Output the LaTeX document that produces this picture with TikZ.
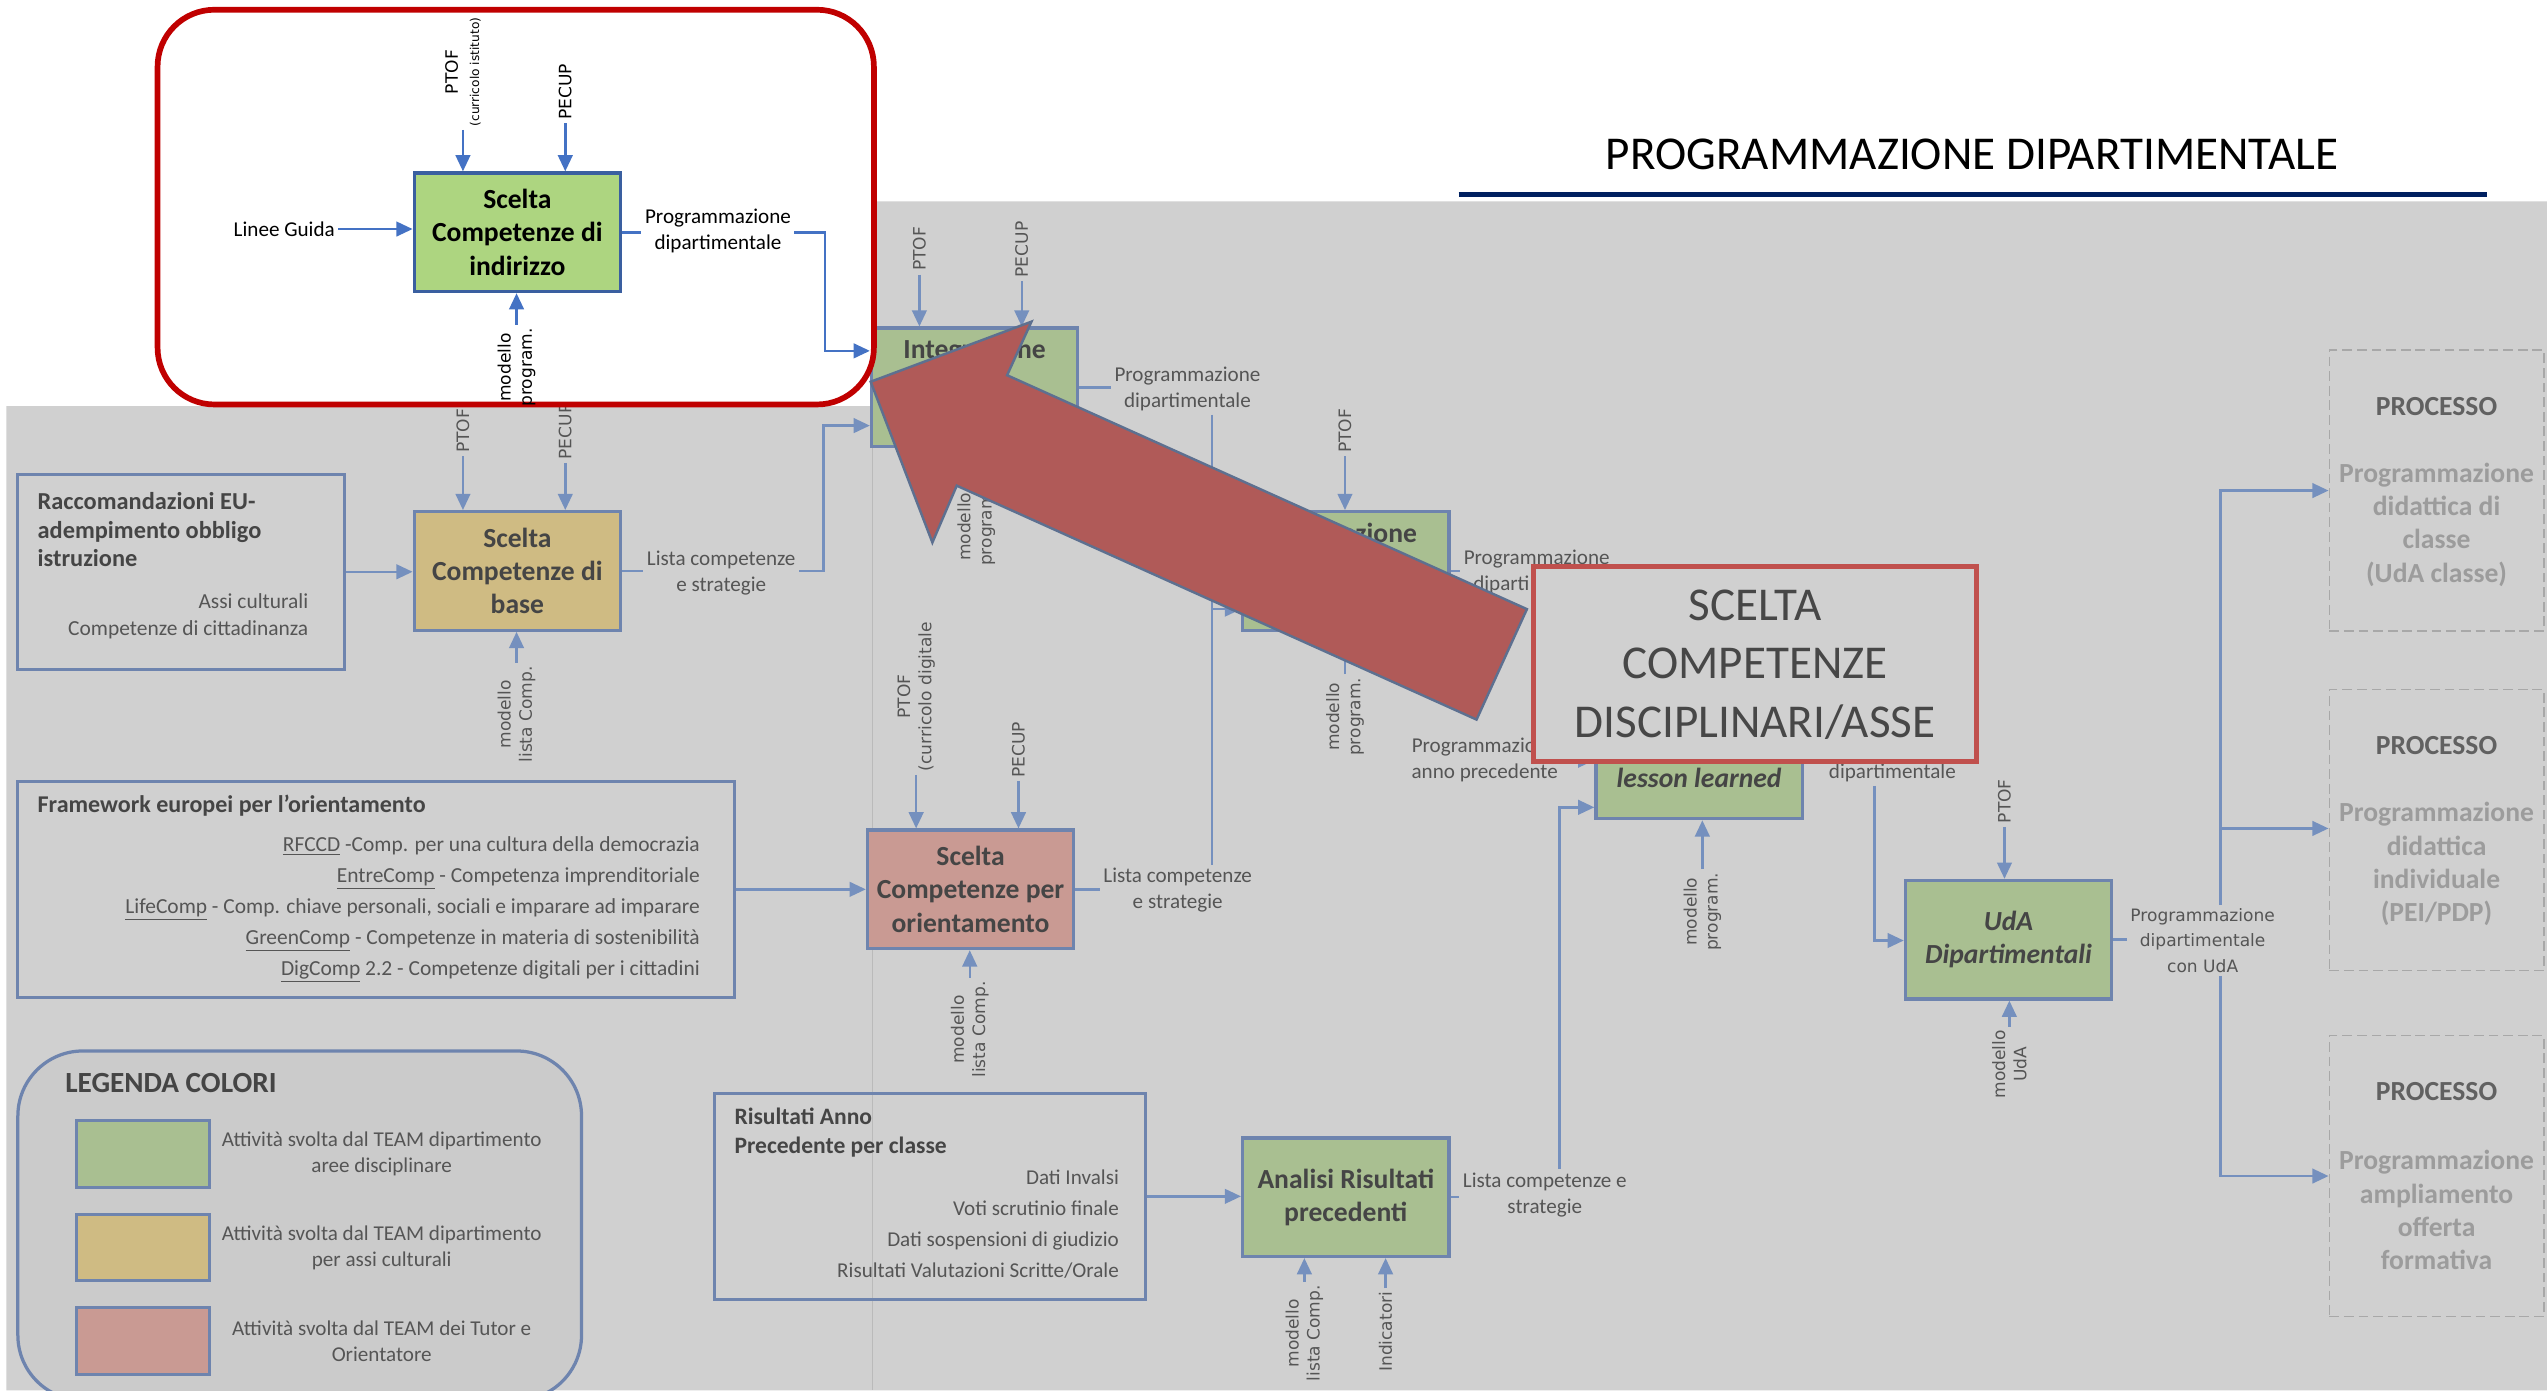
\documentclass[tikz,border=0pt]{standalone}
\usepackage{fontspec}
\setmainfont{Carlito}
\newfontfamily\dejavu{DejaVu Sans}
\usepackage{tikz}
\usetikzlibrary{positioning, arrows.meta, calc}
\newcommand{\fsz}[2]{\fontsize{#1}{#2}\selectfont}

\definecolor{bggray}{HTML}{D0D0D0}
\definecolor{linkblue}{HTML}{7590BE}
\definecolor{edgeblue}{HTML}{6E84AE}
\definecolor{brightblue}{HTML}{4472C4}
\definecolor{darkblue}{HTML}{3A5FA0}
\definecolor{txtgray}{HTML}{555555}
\definecolor{boxtxt}{HTML}{454545}
\definecolor{colGreen}{HTML}{A9BF91}
\definecolor{colBright}{HTML}{ADD580}
\definecolor{colTan}{HTML}{CFBB83}
\definecolor{colPink}{HTML}{C99A93}
\definecolor{hired}{HTML}{C00000}
\definecolor{callred}{HTML}{C0504D}
\definecolor{arrowred}{HTML}{B05A58}
\definecolor{arrowedge}{HTML}{5D7090}
\definecolor{navy}{HTML}{002060}
\definecolor{procedge}{HTML}{A8A8A8}

\begin{document}
\begin{tikzpicture}[x=1pt, y=-1pt,
  proc/.style={draw=edgeblue, line width=2pt, minimum width=127pt, minimum height=73pt,
    inner sep=0pt, align=center, text=boxtxt, font=\bfseries\fsz{17}{20.5}},
  srcbox/.style={draw=edgeblue, line width=2pt, inner sep=0pt},
  lbl/.style={align=center, text=txtgray, inner sep=2pt, font=\fsz{13}{16}},
  vlbl/.style={rotate=90, align=center, text=txtgray, inner sep=2pt, font=\dejavu\fsz{10.5}{13}},
  link/.style={draw=linkblue, line width=1.5pt},
  arr/.style={link, -{Triangle[length=10pt,width=9pt]}},
  linkw/.style={draw=brightblue, line width=1.5pt},
  arrw/.style={linkw, -{Triangle[length=10pt,width=9pt]}},
  procbox/.style={draw=procedge, line width=1pt, dash pattern=on 6pt off 3pt,
    minimum width=132pt, minimum height=173pt, inner sep=0pt},
  proctitle/.style={text=black!62, font=\bfseries\fsz{17}{20.5}},
  procsub/.style={text=black!39, align=center, font=\bfseries\fsz{17}{20.5}}]

  % Page and gray panel
  \useasboundingbox (0,0) rectangle (1568,856);
  \fill[white] (0,0) rectangle (1568,856);
  \fill[bggray] (4,250) -- (537,250) -- (537,124) -- (1568,124) -- (1568,856) -- (4,856) -- cycle;
  \draw[black!27, line width=0.6pt] (537,250) -- (537,856);

  % Source boxes
  \node[srcbox, minimum width=201pt, minimum height=120pt] (racc) at (111.5,352) {};
  \node[lbl, text=boxtxt, font=\bfseries\fsz{15}{17.5}, align=left, anchor=west] (raccT) at (21,326)
    {Raccomandazioni EU-\\adempimento obbligo\\istruzione};
  \node[lbl, font=\fsz{13.2}{17}, align=right, anchor=east] (raccA) at (192,379.5)
    {Assi culturali\\Competenze di cittadinanza};

  \node[srcbox, minimum width=441pt, minimum height=133pt] (frame) at (231.5,547.5) {};
  \node[lbl, text=boxtxt, font=\bfseries\fsz{14.8}{17}, anchor=west] (frameT) at (21,496)
    {Framework europei per l’orientamento};
  \node[lbl, font=\fsz{13.2}{19}, align=right, anchor=east] (frameL) at (433,560)
    {\underline{RFCCD} -Comp. per una cultura della democrazia\\
     \underline{EntreComp} - Competenza imprenditoriale\\
     \underline{LifeComp} - Comp. chiave personali, sociali e imparare ad imparare\\
     \underline{GreenComp} - Competenze in materia di sostenibilità\\
     \underline{DigComp} 2.2 - Competenze digitali per i cittadini};

  \node[srcbox, minimum width=265pt, minimum height=127pt] (risult) at (572.5,736.5) {};
  \node[lbl, text=boxtxt, font=\bfseries\fsz{14.5}{18}, align=left, anchor=west] (risultT) at (450,697)
    {Risultati Anno\\Precedente per classe};
  \node[lbl, font=\fsz{13}{19}, align=right, anchor=east] (risultL) at (691,753.5)
    {Dati Invalsi\\Voti scrutinio finale\\Dati sospensioni di giudizio\\Risultati Valutazioni Scritte/Orale};

  % Legend
  \node[draw=edgeblue, line width=2pt, fill=black!20.5, rounded corners=40pt,
    minimum width=347pt, minimum height=215pt] (legend) at (184.5,754.5) {};
  \node[lbl, text=boxtxt, font=\bfseries\fsz{18}{22}, anchor=west] (legT) at (38,667) {LEGENDA COLORI};
  \foreach \i/\col/\y/\txt in {1/colGreen/710.5/{Attività svolta dal TEAM dipartimento\\aree disciplinare},
                               2/colTan/768/{Attività svolta dal TEAM dipartimento\\per assi culturali},
                               3/colPink/825.5/{Attività svolta dal TEAM dei Tutor e\\Orientatore}} {
    \node[srcbox, fill=\col, minimum width=82pt, minimum height=41pt] (sw\i) at (88,\y) {};
    \node[lbl, font=\fsz{13}{16}] (leg\i) at (235,\y) {\txt};
  }

  % Process boxes (gray area)
  \node[proc, fill=colGreen] (integ1) at (600,238.5) {Integrazione\\\strut\\\strut};
  \node[proc, fill=colGreen] (integ2) at (828.5,351.5) {Integrazione\\\strut\\\strut};
  \node[proc, fill=colTan] (base) at (318.5,351.5) {Scelta\\Competenze di\\base};
  \node[proc, fill=colPink] (orient) at (597.5,547.5) {Scelta\\Competenze per\\orientamento};
  \node[proc, fill=colGreen, font=\bfseries\itshape\fsz{17}{20.5}] (lesson) at (1046,467.5) {\strut\\lesson learned};
  \node[proc, fill=colGreen, font=\bfseries\itshape\fsz{17}{20.5}] (uda) at (1236.5,578.5) {UdA\\Dipartimentali};
  \node[proc, fill=colGreen] (analisi) at (828.5,737) {Analisi Risultati\\precedenti};

  % Following processes (dashed)
  \foreach \i/\ty/\txt in {1/215/{Programmazione\\didattica di\\classe\\(UdA classe)},
                           2/424/{Programmazione\\didattica\\individuale\\(PEI/PDP)},
                           3/637/{Programmazione\\ampliamento\\offerta\\formativa}} {
    \node[procbox, anchor=north] (pb\i) at (1500,\ty) {};
    \node[proctitle] (pt\i) at (1500,\ty+35) {PROCESSO};
    \node[procsub] (ps\i) at (1500,\ty+108) {\txt};
  }

  % Output labels
  \node[lbl] (lista1) at (444,352.5) {Lista competenze\\e strategie};
  \node[lbl] (prog1) at (731,239.5) {Programmazione\\dipartimentale};
  \node[lbl] (lista2) at (725,548) {Lista competenze\\e strategie};
  \node[lbl] (prog2) at (946,352) {Programmazione\\dipartimentale};
  \node[lbl] (prec) at (914,468) {Programmazione\\anno precedente};
  \node[lbl] (prog3) at (1165,476) {dipartimentale};
  \node[lbl] (lista3) at (951,735.5) {Lista competenze e\\strategie};
  \node[lbl, font=\dejavu\fsz{10.5}{15.5}] (prog4) at (1356,579) {Programmazione\\dipartimentale\\con UdA};

  % Elbow points
  \coordinate (j1) at (507,262);
  \coordinate (j2) at (746,375);
  \coordinate (j3) at (960,497);
  \coordinate (j4) at (1154,579);
  \coordinate (jv) at (1367,510);

  % Flow connectors
  \draw[arr] (racc.east) -- (racc.east -| base.west);
  \draw[arr] (frame.east) -- (frame.east -| orient.west);
  \draw[arr] (risult.east) -- (risult.east -| analisi.west);
  \draw[link] (base.east) -- (lista1.west |- base.east);
  \draw[arr] (lista1.east |- base.east) -| (j1) -- (integ1.west |- j1);
  \draw[link] (integ1.east) -- (prog1.west |- integ1.east);
  \draw[arr] (prog1.south -| j2) -- (j2) -- (integ2.west |- j2);
  \draw[link] (orient.east) -- (lista2.west |- orient.east);
  \draw[link] (lista2.north -| j2) -- (j2);
  \draw[link] (integ2.east) -- (prog2.west |- integ2.east);
  \draw[arr] (prec.east) -- (prec.east -| lesson.west);
  \draw[link] (analisi.east) -- (lista3.west |- analisi.east);
  \draw[arr] (lista3.north -| j3) -- (j3) -- (lesson.west |- j3);
  \draw[link] (lesson.east) -- (lesson.east -| prog3.west);
  \draw[arr] (prog3.south -| j4) -- (j4) -- (uda.west |- j4);
  \draw[link] (uda.east) -- (prog4.west |- uda.east);
  \draw[arr] (prog4.north -| jv) |- (pb1.west);
  \draw[arr] (jv) -- (jv -| pb2.west);
  \draw[arr] (prog4.south -| jv) |- (pb3.west);

  % Inputs from above
  \node[vlbl, anchor=west] (ptofB) at (285,281) {PTOF};
  \node[vlbl, anchor=west] (pecupB) at (348,285) {PECUP};
  \node[vlbl, anchor=west] (ptofI1) at (566,169) {PTOF};
  \node[vlbl, anchor=west] (pecupI1) at (629,173) {PECUP};
  \node[vlbl, anchor=west] (ptofI2) at (828,281) {PTOF};
  \node[vlbl, anchor=west] (ptofO) at (564,477) {PTOF\\(curricolo digitale};
  \node[vlbl, anchor=west] (pecupO) at (627,481) {PECUP};
  \node[vlbl, anchor=west] (ptofU) at (1234,509) {PTOF};
  \draw[arr] (ptofB.west) -- (ptofB.west |- base.north);
  \draw[arr] (pecupB.west) -- (pecupB.west |- base.north);
  \draw[arr] (ptofI1.west) -- (ptofI1.west |- integ1.north);
  \draw[arr] (pecupI1.west) -- (pecupI1.west |- integ1.north);
  \draw[arr] (ptofI2.west) -- (ptofI2.west |- integ2.north);
  \draw[arr] (ptofO.west) -- (ptofO.west |- orient.north);
  \draw[arr] (pecupO.west) -- (pecupO.west |- orient.north);
  \draw[arr] (ptofU.west) -- (ptofU.west |- uda.north);

  % Inputs from below
  \node[vlbl, anchor=east] (modB) at (318,408) {modello\\lista Comp.};
  \node[vlbl, anchor=east] (modI1) at (601,298) {modello\\program.};
  \node[vlbl, anchor=east] (modI2) at (828,415) {modello\\program.};
  \node[vlbl, anchor=east] (modO) at (597,602) {modello\\lista Comp.};
  \node[vlbl, anchor=east] (modL) at (1048,535) {modello\\program.};
  \node[vlbl, anchor=east] (modU) at (1237,632) {modello\\UdA};
  \node[vlbl, anchor=east] (modA) at (803,789) {modello\\lista Comp.};
  \node[vlbl, anchor=east] (indic) at (853,793) {Indicatori};
  \draw[arr] (modB.east) -- (modB.east |- base.south);
  \draw[arr] (modI1.east) -- (modI1.east |- integ1.south);
  \draw[arr] (modI2.east) -- (modI2.east |- integ2.south);
  \draw[arr] (modO.east) -- (modO.east |- orient.south);
  \draw[arr] (modL.east) -- (modL.east |- lesson.south);
  \draw[arr] (modU.east) -- (modU.east |- uda.south);
  \draw[arr] (modA.east) -- (modA.east |- analisi.south);
  \draw[arr] (indic.east) -- (indic.east |- analisi.south);

  % Highlighted step (white frame)
  \node[draw=hired, line width=3.5pt, fill=white, rounded corners=35pt,
    minimum width=441pt, minimum height=243pt] (focus) at (317.5,127.5) {};
  \node[proc, fill=colBright, draw=darkblue, text=black] (ind) at (318.5,143) {Scelta\\Competenze di\\indirizzo};
  \node[lbl, text=black] (linee) at (175,141) {Linee Guida};
  \node[lbl, text=black] (progW) at (442,142) {Programmazione\\dipartimentale};
  \node[vlbl, anchor=west, text=black] (ptofW) at (285,80) {PTOF\\{\fsz{7.5}{9}(curricolo istituto)}};
  \node[vlbl, anchor=west, text=black] (pecupW) at (348,76) {PECUP};
  \node[vlbl, anchor=east, text=black] (modW) at (318,200) {modello\\program.};
  \coordinate (jw) at (508,216);
  \draw[arrw] (linee.east) -- (linee.east -| ind.west);
  \draw[arrw] (ptofW.west) -- (ptofW.west |- ind.north);
  \draw[arrw] (pecupW.west) -- (pecupW.west |- ind.north);
  \draw[arrw] (modW.east) -- (modW.east |- ind.south);
  \draw[linkw] (ind.east) -- (progW.west |- ind.east);
  \draw[arrw] (progW.east |- ind.east) -| (jw) -- (integ1.west |- jw);

  % Big pointer arrow
  \filldraw[fill=arrowred, draw=arrowedge, line width=1.5pt]
    (536,235) -- (635,198) -- (620,231) -- (940,375) -- (909,443) -- (589,299) -- (574,334) -- cycle;

  % Callout
  \node[draw=callred, line width=3pt, fill=bggray, minimum width=273pt, minimum height=120pt,
    inner sep=0pt, align=center, text=black!72, font=\fsz{29}{36}] (callout) at (1080.5,409)
    {SCELTA\\COMPETENZE\\DISCIPLINARI/ASSE};

  % Title
  \node[font=\fsz{29}{35}] (title) at (1214,95) {PROGRAMMAZIONE DIPARTIMENTALE};
  \draw[navy, line width=3pt] (898,120) -- (1531,120);
\end{tikzpicture}
\end{document}
